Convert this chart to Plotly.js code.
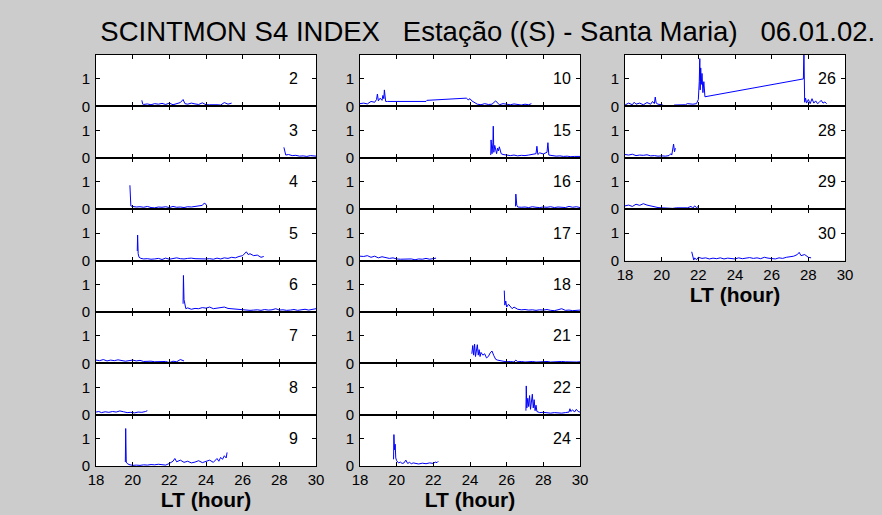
<!DOCTYPE html>
<html>
<head>
<meta charset="utf-8">
<script src="https://cdn.plot.ly/plotly-3.0.1.min.js"></script>
<style>html,body{margin:0;padding:0;background:#cccccc;}#chart{width:882px;height:515px;}</style>
</head>
<body>
<div id="chart"></div>
<script>
// ---- data: S4 index vs local time (hours) for each PRN ----
const x2 = [20.5,20.55,20.6,20.8,21.0,21.2,21.4,21.6,21.8,22.0,22.2,22.4,22.6,22.75,22.85,23.0,23.2,23.4,23.6,23.8,24.0,24.2,24.4,24.6,24.8,25.0,25.2,25.4];
const y2 = [0.22,0.08,0.07,0.09,0.06,0.10,0.08,0.11,0.07,0.12,0.06,0.10,0.14,0.25,0.10,0.08,0.12,0.09,0.07,0.13,0.06,0.06,0.07,0.06,0.05,0.14,0.08,0.12];
const x3 = [28.25,28.3,28.35,28.5,28.7,28.9,29.1,29.3,29.5,29.7,29.9,30.0];
const y3 = [0.38,0.18,0.10,0.12,0.08,0.09,0.06,0.07,0.05,0.08,0.05,0.06];
const x4 = [19.85,19.87,19.9,20.0,20.2,20.4,20.6,20.8,21.0,21.2,21.4,21.6,21.8,22.0,22.2,22.4,22.6,22.8,23.0,23.2,23.4,23.6,23.8,23.9,24.0,24.05];
const y4 = [0.87,0.3,0.12,0.10,0.08,0.09,0.07,0.10,0.06,0.05,0.08,0.07,0.09,0.06,0.10,0.07,0.08,0.06,0.09,0.08,0.10,0.11,0.14,0.22,0.18,0.10];
const x5 = [20.25,20.27,20.3,20.35,20.45,20.6,20.8,21.0,21.2,21.4,21.6,21.8,22.0,22.2,22.4,22.6,22.8,23.0,23.2,23.4,23.6,23.8,24.0,24.2,24.4,24.6,24.8,25.0,25.2,25.4,25.6,25.8,26.0,26.2,26.3,26.4,26.6,26.8,27.0,27.15];
const y5 = [0.35,0.93,0.25,0.12,0.08,0.06,0.07,0.05,0.06,0.08,0.04,0.09,0.05,0.08,0.10,0.07,0.06,0.08,0.09,0.07,0.06,0.05,0.06,0.07,0.05,0.09,0.06,0.10,0.08,0.12,0.10,0.15,0.18,0.32,0.22,0.25,0.18,0.20,0.12,0.15];
const x6 = [22.75,22.77,22.8,22.85,22.9,23.0,23.2,23.4,23.6,23.8,24.0,24.2,24.4,24.6,24.8,25.0,25.2,25.4,25.6,25.8,26.0,26.2,26.4,26.6,26.8,27.0,27.2,27.4,27.6,27.8,28.0,28.2,28.4,28.6,28.8,29.0,29.2,29.4,29.6,29.8,30.0];
const y6 = [0.3,1.33,0.45,0.25,0.12,0.15,0.10,0.13,0.12,0.16,0.14,0.18,0.12,0.14,0.16,0.18,0.13,0.12,0.09,0.08,0.07,0.08,0.06,0.07,0.08,0.06,0.09,0.07,0.08,0.12,0.07,0.08,0.06,0.07,0.09,0.06,0.08,0.10,0.07,0.09,0.12];
const x7 = [18.0,18.2,18.4,18.6,18.8,19.0,19.2,19.4,19.6,19.8,20.0,20.2,20.4,20.6,20.8,21.0,21.2,21.4,21.6,21.8,22.0,22.2,22.4,22.6,22.8];
const y7 = [0.12,0.10,0.14,0.09,0.12,0.10,0.13,0.11,0.08,0.10,0.12,0.09,0.11,0.07,0.08,0.08,0.06,0.07,0.06,0.07,0.03,0.08,0.06,0.14,0.09];
const x8 = [18.0,18.15,18.3,18.5,18.7,18.9,19.1,19.3,19.5,19.7,19.9,20.1,20.3,20.5,20.7,20.8];
const y8 = [0.10,0.12,0.08,0.11,0.09,0.12,0.10,0.14,0.11,0.08,0.09,0.07,0.10,0.09,0.12,0.15];
const x9 = [19.6,19.62,19.65,19.7,19.8,20.0,20.2,20.4,20.6,20.8,21.0,21.2,21.4,21.6,21.8,22.0,22.2,22.3,22.4,22.6,22.8,23.0,23.2,23.4,23.6,23.8,24.0,24.2,24.4,24.6,24.7,24.8,24.9,25.0,25.1,25.15];
const y9 = [0.15,1.37,0.15,0.10,0.06,0.03,0.04,0.03,0.05,0.04,0.06,0.05,0.07,0.05,0.04,0.10,0.18,0.28,0.16,0.22,0.14,0.18,0.12,0.15,0.20,0.13,0.17,0.22,0.14,0.28,0.18,0.32,0.25,0.38,0.30,0.50];
const x10 = [18.0,18.2,18.4,18.6,18.8,18.9,18.95,19.0,19.1,19.2,19.25,19.3,19.33,19.36,19.4,19.5,20.2,21.6,21.65,23.1,23.8,23.9,24.0,24.1,24.2,24.3,24.4,24.6,24.8,25.0,25.2,25.4,25.6,25.8,26.0,26.2,26.4,26.6,26.8,27.0,27.2,27.35];
const y10 = [0.10,0.12,0.09,0.18,0.15,0.25,0.45,0.20,0.30,0.22,0.40,0.28,0.60,0.35,0.18,0.18,0.18,0.18,0.22,0.28,0.30,0.24,0.28,0.20,0.15,0.12,0.08,0.06,0.10,0.07,0.08,0.20,0.06,0.10,0.08,0.06,0.09,0.07,0.05,0.08,0.06,0.10];
const x15 = [25.13,25.15,25.2,25.25,25.27,25.3,25.35,25.4,25.45,25.5,25.55,25.6,25.7,25.8,26.0,26.2,26.4,26.6,26.8,27.0,27.2,27.4,27.6,27.65,27.7,27.8,28.0,28.2,28.25,28.3,28.5,28.7,28.9,29.1,29.3,29.5,29.7,29.9,30.0];
const y15 = [0.10,0.65,0.15,0.55,1.15,0.20,0.45,0.30,0.15,0.35,0.25,0.40,0.15,0.12,0.10,0.08,0.10,0.07,0.09,0.08,0.10,0.12,0.15,0.42,0.12,0.18,0.14,0.20,0.55,0.10,0.08,0.06,0.07,0.05,0.06,0.04,0.05,0.06,0.05];
const x16 = [26.48,26.5,26.55,26.6,26.8,27.0,27.2,27.4,27.6,27.8,28.0,28.2,28.4,28.6,28.8,29.0,29.2,29.4,29.6,29.8,30.0];
const y16 = [0.10,0.55,0.15,0.08,0.07,0.08,0.06,0.09,0.07,0.06,0.08,0.07,0.09,0.06,0.08,0.07,0.06,0.10,0.07,0.09,0.06];
const x17 = [18.0,18.2,18.4,18.6,18.8,19.0,19.2,19.4,19.6,19.8,20.0,20.2,20.4,20.6,20.8,21.0,21.2,21.4,21.6,21.8,22.0,22.15];
const y17 = [0.16,0.15,0.18,0.12,0.16,0.10,0.14,0.12,0.08,0.10,0.06,0.05,0.05,0.04,0.06,0.03,0.06,0.05,0.08,0.05,0.07,0.09];
const x18 = [25.87,25.9,25.95,26.0,26.1,26.2,26.3,26.4,26.6,26.8,27.0,27.2,27.4,27.6,27.8,28.0,28.2,28.4,28.6,28.8,29.0,29.2,29.4,29.6,29.8,30.0];
const y18 = [0.78,0.25,0.40,0.18,0.28,0.20,0.12,0.18,0.10,0.08,0.09,0.07,0.08,0.06,0.08,0.07,0.09,0.06,0.05,0.08,0.12,0.06,0.07,0.05,0.06,0.07];
const x21 = [24.1,24.15,24.2,24.25,24.3,24.35,24.4,24.45,24.5,24.55,24.6,24.7,24.8,24.9,25.0,25.1,25.2,25.3,25.4,25.5,25.6,25.8,26.0,26.2,26.4,26.5,26.6,26.8,27.0,27.2,27.4,27.6,27.8,28.0,28.2,28.4,28.6,28.8,29.0,29.2,29.4,29.6,29.8,30.0];
const y21 = [0.35,0.65,0.30,0.70,0.25,0.55,0.68,0.30,0.50,0.25,0.40,0.30,0.35,0.20,0.25,0.38,0.45,0.28,0.15,0.12,0.10,0.08,0.06,0.07,0.05,0.12,0.06,0.07,0.05,0.06,0.07,0.05,0.06,0.05,0.07,0.05,0.06,0.05,0.07,0.06,0.05,0.06,0.05,0.06];
const x22 = [27.05,27.07,27.1,27.15,27.2,27.25,27.3,27.35,27.4,27.45,27.5,27.55,27.6,27.65,27.7,27.8,28.0,28.2,28.4,28.6,28.8,29.0,29.2,29.4,29.45,29.5,29.6,29.7,29.8,29.9,30.0];
const y22 = [0.15,1.05,0.25,0.60,0.30,0.70,0.20,0.45,0.75,0.25,0.55,0.15,0.35,0.12,0.10,0.08,0.09,0.07,0.06,0.08,0.07,0.06,0.08,0.10,0.22,0.12,0.18,0.10,0.20,0.12,0.10];
const x24 = [19.83,19.85,19.88,19.92,19.95,20.0,20.1,20.2,20.3,20.4,20.5,20.6,20.7,20.8,20.9,21.0,21.2,21.4,21.6,21.8,22.0,22.1,22.2,22.27];
const y24 = [0.25,1.15,0.60,0.80,0.30,0.20,0.12,0.15,0.10,0.12,0.22,0.10,0.14,0.09,0.12,0.10,0.08,0.11,0.09,0.12,0.10,0.15,0.13,0.18];
const x26 = [18.0,18.2,18.4,18.5,18.6,18.8,19.0,19.2,19.4,19.5,19.6,19.65,19.7,19.8,20.0,20.1,20.2,20.4,20.6,20.7,21.0,21.3,21.4,21.7,21.9,22.0,22.05,22.08,22.1,22.13,22.16,22.2,22.25,22.3,22.36,27.73,27.76,27.8,27.85,27.9,28.0,28.1,28.2,28.3,28.4,28.5,28.6,28.7,28.8,28.9,29.0];
const y26 = [0.05,0.12,0.06,0.15,0.08,0.12,0.06,0.14,0.08,0.18,0.10,0.34,0.12,0.08,0.06,0.04,0.01,0.02,0.00,0.05,0.05,0.06,0.10,0.08,0.10,0.25,0.90,1.74,0.60,1.40,0.80,1.20,0.50,0.90,0.35,1.00,2.00,0.15,0.30,0.12,0.25,0.10,0.28,0.12,0.20,0.10,0.15,0.22,0.12,0.16,0.10];
const x28 = [18.0,18.2,18.4,18.6,18.8,19.0,19.2,19.4,19.6,19.8,20.0,20.2,20.4,20.5,20.55,20.6,20.65,20.7,20.75];
const y28 = [0.12,0.10,0.13,0.08,0.10,0.09,0.11,0.07,0.08,0.06,0.07,0.06,0.08,0.15,0.10,0.35,0.50,0.22,0.35];
const x29 = [18.0,18.2,18.4,18.6,18.8,19.0,19.2,19.4,19.6,19.8,20.0,20.2,20.4,20.6,20.8,21.0,21.2,21.4,21.6,21.7,21.8,21.9,22.0];
const y29 = [0.12,0.15,0.10,0.18,0.14,0.20,0.15,0.12,0.08,0.06,0.05,0.04,0.05,0.03,0.05,0.05,0.05,0.05,0.10,0.04,0.12,0.06,0.10];
const x30 = [21.64,21.7,21.75,21.8,21.9,22.0,22.2,22.4,22.6,22.8,23.0,23.2,23.4,23.6,23.8,24.0,24.2,24.4,24.6,24.8,25.0,25.2,25.4,25.6,25.8,26.0,26.2,26.4,26.6,26.8,27.0,27.2,27.4,27.5,27.6,27.8,28.0,28.15];
const y30 = [0.32,0.15,0.02,0.10,0.03,0.12,0.08,0.10,0.06,0.09,0.07,0.10,0.06,0.09,0.08,0.06,0.10,0.07,0.09,0.11,0.08,0.10,0.07,0.12,0.09,0.08,0.06,0.10,0.08,0.12,0.14,0.16,0.22,0.30,0.18,0.22,0.12,0.10];

const col1Labels = ['2','3','4','5','6','7','8','9'];
const col2Labels = ['10','15','16','17','18','21','22','24'];
const col3Labels = ['26','28','29','30'];
const xTickVals = [18,20,22,24,26,28,30];
const yTickVals = [0,1];
const titleText = 'SCINTMON S4 INDEX   Estação ((S) - Santa Maria)   06.01.02.';
const xTitle = 'LT (hour)';

const series = {
  '2':[x2,y2],'3':[x3,y3],'4':[x4,y4],'5':[x5,y5],'6':[x6,y6],'7':[x7,y7],'8':[x8,y8],'9':[x9,y9],
  '10':[x10,y10],'15':[x15,y15],'16':[x16,y16],'17':[x17,y17],'18':[x18,y18],'21':[x21,y21],'22':[x22,y22],'24':[x24,y24],
  '26':[x26,y26],'28':[x28,y28],'29':[x29,y29],'30':[x30,y30]
};

// ---- layout geometry ----
const W = 882, H = 515;
const colX = [[96,316],[360,580],[625,845]];
const TOP = 55, ROWH = 51.4;
const FONT = 'Liberation Sans, Arial, Helvetica, sans-serif';
const cols = [col1Labels, col2Labels, col3Labels];

const data = [];
const layout = {
  width: W, height: H,
  margin: {l:0, r:0, t:0, b:0},
  paper_bgcolor: '#cccccc',
  plot_bgcolor: '#ffffff',
  showlegend: false,
  font: {family: FONT, color: '#000'},
  title: {text: titleText, x: 0.553, xanchor: 'center', y: 1 - 31/H, yanchor: 'middle',
          font: {family: FONT, size: 27.5, color: '#000'}},
  annotations: []
};

let k = 0;
cols.forEach((labels, c) => {
  labels.forEach((lab, r) => {
    k += 1;
    const xs = k === 1 ? '' : String(k);
    const isBottom = r === labels.length - 1;
    const [xv, yv] = series[lab];
    data.push({x: xv, y: yv, xaxis: 'x' + xs, yaxis: 'y' + xs, type: 'scatter', mode: 'lines',
               line: {color: '#0000ff', width: 1}, hoverinfo: 'skip'});
    const y0 = 1 - (TOP + (r + 1) * ROWH) / H;
    const y1 = 1 - (TOP + r * ROWH) / H;
    layout['xaxis' + xs] = {
      domain: [colX[c][0] / W, colX[c][1] / W], anchor: 'y' + xs,
      range: [18, 30], tickmode: 'array', tickvals: xTickVals, ticktext: xTickVals.map(String),
      showticklabels: isBottom, ticks: 'inside', ticklen: 4, tickwidth: 1, tickcolor: '#000',
      showline: true, linecolor: '#000', linewidth: 1, mirror: 'ticks',
      showgrid: false, zeroline: false, fixedrange: true,
      tickfont: {family: FONT, size: 15, color: '#000'},
      title: isBottom ? {text: '<b>' + xTitle + '</b>', font: {family: FONT, size: 21, color: '#000'}, standoff: 5} : {text: ''}
    };
    layout['yaxis' + xs] = {
      domain: [y0, y1], anchor: 'x' + xs,
      range: [0, 1.87], tickmode: 'array', tickvals: yTickVals, ticktext: yTickVals.map(String),
      ticks: 'inside', ticklen: 4, tickwidth: 1, tickcolor: '#000',
      showline: true, linecolor: '#000', linewidth: 1, mirror: 'ticks',
      showgrid: false, zeroline: false, fixedrange: true, ticklabelstandoff: 2,
      tickfont: {family: FONT, size: 15, color: '#000'}
    };
    layout.annotations.push({xref: 'x' + xs, yref: 'y' + xs, x: 28.4, y: 1, text: lab,
      showarrow: false, xanchor: 'left', yanchor: 'middle',
      font: {family: FONT, size: 16, color: '#000'}});
  });
});

Plotly.newPlot('chart', data, layout, {staticPlot: true, displayModeBar: false});
</script>
</body>
</html>
